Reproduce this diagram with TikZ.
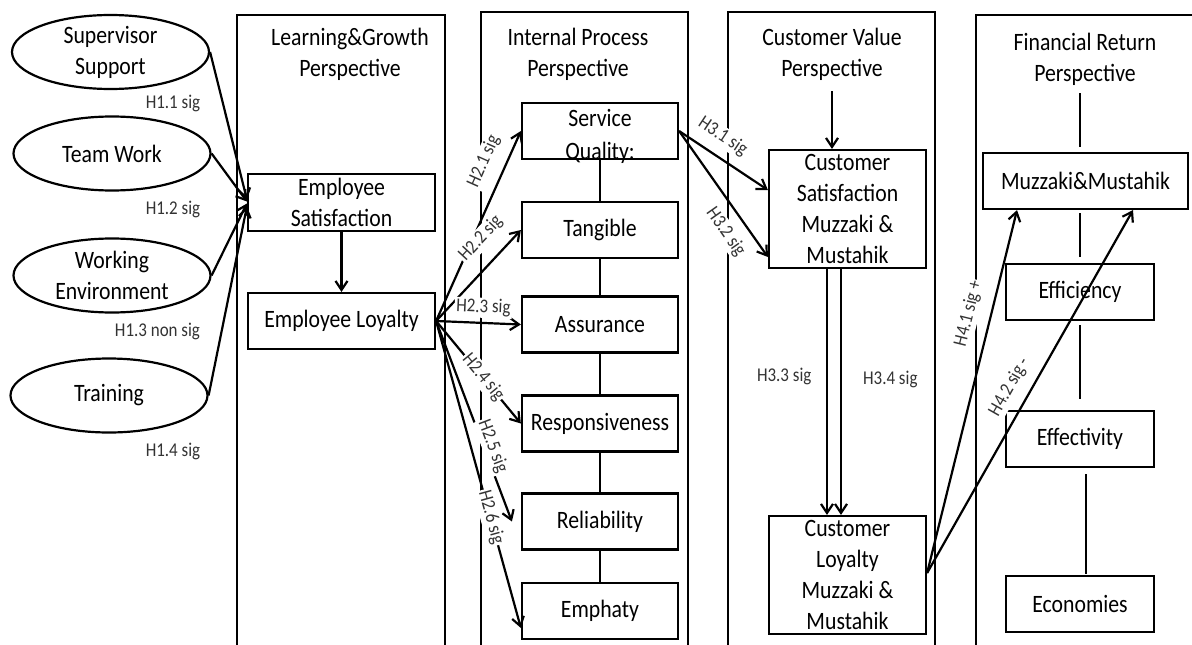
\documentclass[tikz,border=0pt]{standalone}
\usepackage{fontspec}
\setmainfont{Carlito}[FakeStretch=0.87]
\usetikzlibrary{shapes.geometric,arrows.meta}
\begin{document}
\begin{tikzpicture}[x=1pt,y=-1pt,line width=2.2pt,
  mf/.style={font=\fontsize{25}{31}\selectfont},
  bx/.style={draw, rectangle, inner sep=0pt, align=center, mf},
  ell/.style={draw, ellipse, minimum width=197pt, minimum height=74pt, inner sep=0pt},
  ttl/.style={align=center, mf, inner sep=0pt},
  lbl/.style={fill=white, inner sep=1.5pt, text height=13pt, text depth=4pt, text=black!80, font=\fontsize{19.5}{21}\selectfont},
  arr/.style={-{Straight Barb[length=9pt,width=12pt]}}]
\useasboundingbox (0,0) rectangle (1192,645);

% perspective panels (open at the bottom)
\draw (237,645) -- (237,15) -- (445,15) -- (445,645);
\draw (481,645) -- (481,12) -- (688,12) -- (688,645);
\draw (728,645) -- (728,12) -- (935,12) -- (935,645);
\draw (976,645) -- (976,15) -- (1192,15);

% titles
\node[ttl] (t1) at (350,54) {Learning\&Growth\\Perspective};
\node[ttl] (t2) at (578,54) {Internal Process\\Perspective};
\node[ttl] (t3) at (832,54) {Customer Value\\Perspective};
\node[ttl] (t4) at (1085,59) {Financial Return\\Perspective};

% antecedents
\node[ell, label={[align=center,mf,name=tSS]center:Supervisor\\Support}] (SS) at (110.5,52) {};
\node[ell, label={[align=center,mf,name=tTW]center:Team Work}] (TW) at (112,153.5) {};
\node[ell, label={[align=center,mf,name=tWE]center:Working\\Environment}] (WE) at (112,275.5) {};
\node[ell, label={[align=center,mf,name=tTR]center:Training}] (TR) at (109,395.5) {};

% learning & growth
\node[bx, minimum width=187pt, minimum height=57pt] (ES) at (341.5,202.5) {Employee\\Satisfaction};
\node[bx, minimum width=187pt, minimum height=56pt] (EL) at (341.5,321) {Employee Loyalty};

% internal process
\node[bx, minimum width=156pt, minimum height=56pt,
  label={[align=center,inner sep=0pt,yshift=-5pt,font=\fontsize{25}{33}\selectfont,name=tSQ]center:Service\\Quality:}] (SQ) at (600,131) {};
\node[bx, minimum width=156pt, minimum height=56pt] (TG) at (600,230) {Tangible};
\node[bx, minimum width=156pt, minimum height=56pt] (AS) at (600,324.5) {Assurance};
\node[bx, minimum width=156pt, minimum height=56pt] (RS) at (600,423.5) {Responsiveness};
\node[bx, minimum width=156pt, minimum height=56pt] (RL) at (600,521.5) {Reliability};
\node[bx, minimum width=156pt, minimum height=56pt] (EM) at (600,611) {Emphaty};

% customer value
\node[bx, minimum width=157pt, minimum height=118pt] (CS) at (847.5,209) {Customer\\Satisfaction\\Muzzaki \&\\Mustahik};
\node[bx, minimum width=157pt, minimum height=118pt] (CL) at (847.5,575) {Customer\\Loyalty\\Muzzaki \&\\Mustahik};

% financial return
\node[bx, minimum width=205pt, minimum height=56pt] (MM) at (1085.5,181) {Muzzaki\&Mustahik};
\node[bx, minimum width=148pt, minimum height=56pt] (EF) at (1080,292) {Efficiency};
\node[bx, minimum width=148pt, minimum height=56pt] (ET) at (1080,439) {Effectivity};
\node[bx, minimum width=148pt, minimum height=56pt] (EC) at (1080,604) {Economies};

% plain links
\draw[arr] (ES) -- (EL);
\draw (SQ) -- (TG);
\draw (TG) -- (AS);
\draw (AS) -- (RS);
\draw (RS) -- (RL);
\draw (RL) -- (EM);
\draw[arr, shorten <=10pt] (t3.south) -- (t3.south |- CS.north);
\draw[shorten <=7pt, shorten >=5pt] (t4.south -| EF.north) -- (EF.north |- MM.north);
\draw[shorten <=3pt, shorten >=6pt] (EF.north |- MM.south) -- (EF.north);
\draw[shorten <=4pt, shorten >=11pt] (EF.south) -- (ET.north);
\draw[shorten <=6pt, shorten >=1pt] ([xshift=6pt]ET.south) -- ([xshift=6pt]EC.north);

% H1
\draw[arr] (SS.east) -- ([yshift=3pt]ES.west);
\draw[arr] (TW.east) -- ([yshift=1pt]ES.west);
\draw[arr] (WE.east) -- ([yshift=-1pt]ES.west);
\draw[arr] (TR.east) -- ([yshift=-4pt]ES.west);
\node[lbl] (l11) at (173,104) {H1.1 sig};
\node[lbl] (l12) at (173,210) {H1.2 sig};
\node[lbl] (l13) at (157.5,332) {H1.3 non sig};
\node[lbl] (l14) at (173,452) {H1.4 sig};

% H2
\draw[arr] (EL.east) -- (SQ.west) node[lbl, sloped, pos=.795, above=10pt] (l21) {H2.1 sig};
\draw[arr] (EL.east) -- (TG.west) node[lbl, sloped, pos=.73, above=12pt] (l22) {H2.2 sig};
\draw[arr] (EL.east) -- (AS.west) node[lbl, sloped, pos=.55, above=4pt] (l23) {H2.3 sig};
\draw[arr] (EL.east) -- (RS.west) node[lbl, sloped, pos=.55] (l24) {H2.4 sig};
\draw[arr] (EL.east) -- ([xshift=-9pt]RL.west) node[lbl, sloped, pos=.64, above=-3pt] (l25) {H2.5 sig};
\draw[arr] (EL.east) -- ([yshift=-17pt]EM.west) node[lbl, sloped, pos=.64] (l26) {H2.6 sig};

% H3
\draw[arr] (SQ.east) -- ([yshift=19pt]CS.west) node[lbl, sloped, pos=.37, above=8pt] (l31) {H3.1 sig};
\draw[arr] (SQ.east) -- ([yshift=-48pt]CS.west) node[lbl, sloped, pos=.71, below=9.5pt] (l32) {H3.2 sig};
\draw[arr] ([xshift=-20.5pt]CS.south) -- ([xshift=-20.5pt]CL.north) node[lbl, pos=.44, left=13pt] (l33) {H3.3 sig};
\draw[arr] ([xshift=-6.5pt]CS.south) -- ([xshift=-6.5pt]CL.north) node[lbl, pos=.45, right=19.5pt] (l34) {H3.4 sig};

% H4
\draw[arr] ([yshift=2pt]CL.east) -- ([xshift=-68.5pt]MM.south) node[lbl, sloped, pos=.70, above=10.5pt] (l41) {H4.1 sig +};
\draw[arr] ([yshift=2pt]CL.east) -- ([xshift=47.5pt]MM.south) node[lbl, sloped, pos=.485, above=8.5pt] (l42) {H4.2 sig -};
\end{tikzpicture}
\end{document}
